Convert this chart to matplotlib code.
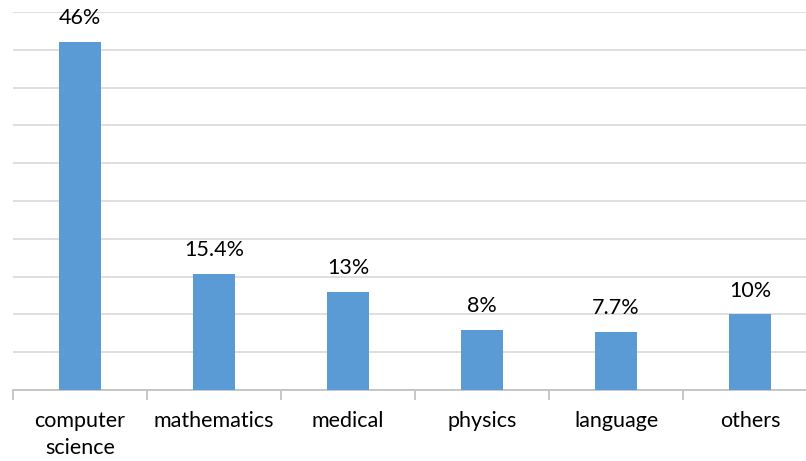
import matplotlib.pyplot as plt
import numpy as np

# chart data
categories = ['computer\nscience', 'mathematics', 'medical', 'physics', 'language', 'others']
values = [46, 15.4, 13, 8, 7.7, 10]
labels = ['46%', '15.4%', '13%', '8%', '7.7%', '10%']

plt.rcParams['font.family'] = ['Lato', 'DejaVu Sans']

fig = plt.figure(figsize=(8.06, 4.61), dpi=100)
# axes runs slightly past the right edge, like the original crop
ax = fig.add_axes([13 / 806, 1 - 390 / 461, 804 / 806, 378 / 461])

x = np.arange(len(categories))
ax.bar(x, values, width=0.31, color='#5b9bd5', zorder=3)

for xi, v, lab in zip(x, values, labels):
    ax.annotate(lab, (xi, v), xytext=(0, 10), textcoords='offset points',
                ha='center', va='bottom', fontsize=15.5, color='#000000')

ax.set_xlim(-0.5, len(categories) - 0.5)
ax.set_ylim(0, 50)
ax.set_yticks(np.arange(0, 51, 5))
ax.yaxis.grid(True, color='#d9d9d9', linewidth=1.2, zorder=0)
ax.tick_params(axis='y', left=False, labelleft=False)

# category labels centred, separator ticks between categories
ax.set_xticks(x)
ax.set_xticklabels(categories, fontsize=15.5, linespacing=1.45)
ax.tick_params(axis='x', which='major', length=0, pad=15)
ax.set_xticks(np.arange(-0.5, len(categories)), minor=True)
ax.tick_params(axis='x', which='minor', length=7, color='#bfbfbf', width=1.2)

for side in ['top', 'right', 'left']:
    ax.spines[side].set_visible(False)
ax.spines['bottom'].set_color('#bfbfbf')
ax.spines['bottom'].set_linewidth(1.2)

fig.savefig('out.png', dpi=100)
